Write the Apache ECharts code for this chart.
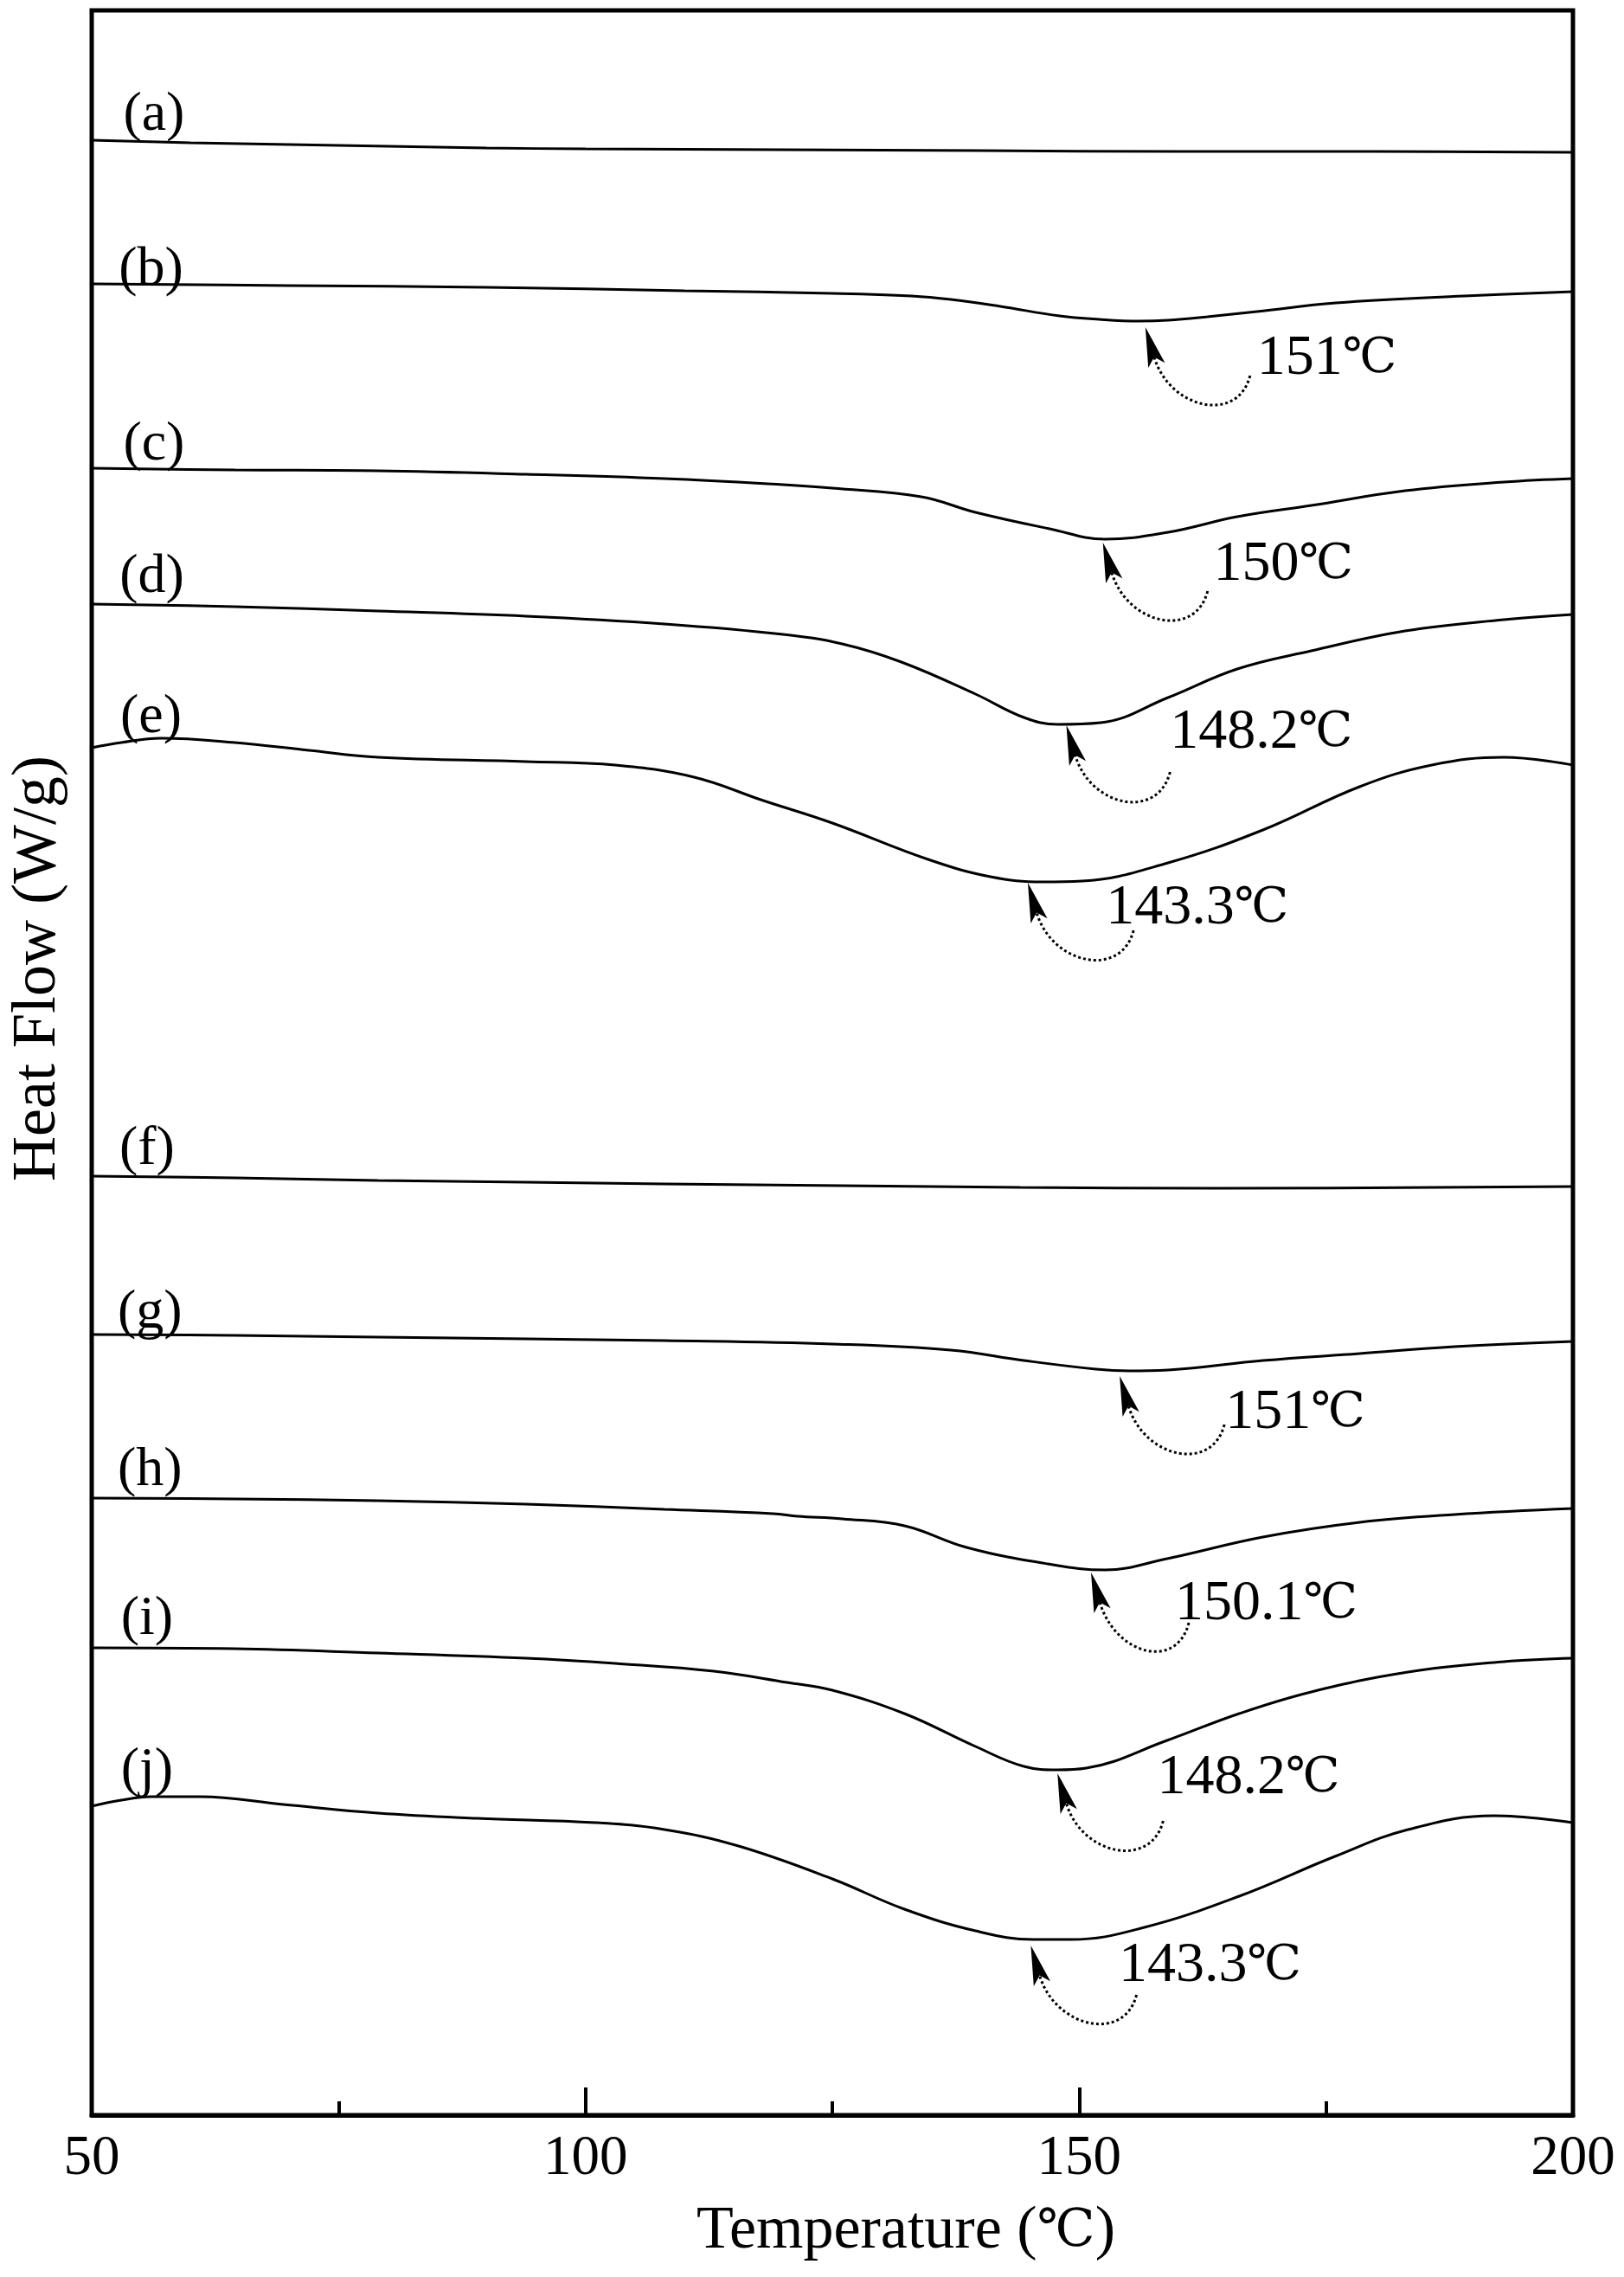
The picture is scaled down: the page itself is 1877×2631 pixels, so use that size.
<!DOCTYPE html>
<html>
<head>
<meta charset="utf-8">
<script src="https://cdn.jsdelivr.net/npm/echarts@6/dist/echarts.min.js"></script>
<style>
  * { margin: 0; padding: 0; }
  html, body { background: #fff; }
  #chart-container { width: 1877px; height: 2631px; }
</style>
</head>
<body>
<div id="chart-container"></div>
<script>
// temperature (°C), heat flow with vertical offsets (arbitrary, curves stacked)
var curveA = [[50, 2.282], [60, 2.279], [70, 2.277], [80, 2.275], [90, 2.273], [100, 2.272], [120, 2.271], [140, 2.270], [160, 2.269], [180, 2.269], [200, 2.268]]
var curveB = [[50, 2.116], [70, 2.114], [90, 2.112], [110, 2.108], [125, 2.105], [133, 2.102], [137, 2.098], [142, 2.090], [148, 2.079], [152, 2.075], [156, 2.073], [159, 2.074], [163, 2.078], [168, 2.084], [176, 2.094], [189, 2.102], [200, 2.107]]
var curveC = [[50, 1.903], [64.5, 1.901], [79, 1.900], [94, 1.896], [108, 1.891], [120, 1.884], [125, 1.880], [134, 1.870], [139.5, 1.852], [147, 1.833], [152.6, 1.821], [159, 1.829], [166, 1.847], [173.5, 1.860], [183, 1.877], [193, 1.887], [200, 1.891]]
var curveD = [[50, 1.746], [64.5, 1.743], [79, 1.738], [94, 1.732], [108, 1.723], [120, 1.711], [126, 1.700], [132, 1.679], [139.5, 1.642], [144.4, 1.615], [147.8, 1.607], [152.2, 1.609], [159, 1.638], [166, 1.671], [173.5, 1.692], [183, 1.715], [193, 1.728], [200, 1.734]]
var curveE = [[50, 1.580], [53, 1.586], [57, 1.591], [64.5, 1.586], [72, 1.577], [79, 1.569], [94, 1.564], [103, 1.560], [111, 1.546], [118, 1.519], [125, 1.493], [134.7, 1.451], [141, 1.431], [146.3, 1.425], [150.3, 1.426], [159, 1.447], [168.6, 1.485], [178.4, 1.535], [185.7, 1.560], [193, 1.569], [200, 1.560]]
var curveF = [[50, 1.085], [64.5, 1.083], [79, 1.080], [94, 1.078], [108, 1.076], [126, 1.074], [144, 1.072], [164, 1.071], [200, 1.073]]
var curveG = [[50, 0.902], [64.5, 0.901], [79, 0.899], [94, 0.897], [108, 0.895], [125, 0.891], [137, 0.884], [144.4, 0.872], [151.7, 0.862], [155, 0.860], [159, 0.861], [168.6, 0.872], [178.4, 0.880], [188, 0.888], [200, 0.894]]
var curveH = [[50, 0.713], [64.5, 0.712], [79, 0.710], [94, 0.706], [108, 0.700], [119, 0.695], [121.5, 0.692], [126, 0.689], [132.3, 0.681], [138.6, 0.656], [146.8, 0.637], [152.6, 0.630], [158.9, 0.643], [168.6, 0.668], [178.4, 0.685], [188, 0.694], [200, 0.701]]
var curveI = [[50, 0.540], [64.5, 0.539], [79, 0.534], [94, 0.528], [103, 0.522], [113, 0.513], [120.4, 0.500], [125, 0.491], [132.3, 0.464], [139.5, 0.426], [144.4, 0.403], [147.8, 0.399], [150.7, 0.401], [158.9, 0.433], [166.2, 0.464], [173.5, 0.489], [183.3, 0.512], [193, 0.524], [200, 0.528]]
var curveJ = [[50, 0.357], [53, 0.364], [56, 0.368], [61, 0.368], [69.4, 0.359], [79, 0.349], [89, 0.343], [101, 0.338], [108, 0.330], [115.5, 0.311], [125, 0.273], [132.3, 0.238], [139.5, 0.213], [145.4, 0.203], [149.2, 0.203], [156.6, 0.217], [166.2, 0.253], [175.9, 0.299], [183.3, 0.330], [192, 0.346], [200, 0.338]]

var curves = [curveA, curveB, curveC, curveD, curveE, curveF, curveG, curveH, curveI, curveJ]
var curveNames = ['(a)', '(b)', '(c)', '(d)', '(e)', '(f)', '(g)', '(h)', '(i)', '(j)']
var xTicks = [50, 100, 150, 200]

// where each curve name sits (temperature, heat flow)
var nameAnchors = [[56.3, 2.3105], [56, 2.1315], [56.3, 1.930], [56.1, 1.777], [56, 1.6145], [55.6, 1.1155], [55.9, 0.927], [55.9, 0.745], [55.6, 0.5725], [55.6, 0.398]]

// melting peak notes: text, arrow tip, arrow tail, text anchor
var peakNotes = [
  null,
  { text: '151℃', tip: [156.7, 2.066], tail: [167.3, 2.010], at: [168.0, 2.029] },
  { text: '150℃', tip: [152.4, 1.817], tail: [163.0, 1.761], at: [163.6, 1.791] },
  { text: '148.2℃', tip: [148.7, 1.606], tail: [159.2, 1.552], at: [159.2, 1.597] },
  { text: '143.3℃', tip: [144.8, 1.424], tail: [155.5, 1.369], at: [152.7, 1.394] },
  null,
  { text: '151℃', tip: [154.1, 0.854], tail: [164.7, 0.798], at: [164.8, 0.811] },
  { text: '150.1℃', tip: [151.2, 0.627], tail: [161.1, 0.569], at: [159.7, 0.590] },
  { text: '148.2℃', tip: [147.8, 0.395], tail: [158.5, 0.340], at: [157.9, 0.389] },
  { text: '143.3℃', tip: [145.1, 0.196], tail: [155.8, 0.139], at: [154.0, 0.172] }
]

var FONT = "'Liberation Serif', 'DejaVu Serif', serif"

// the ℃ sign falls back to a wider font, so draw it a bit smaller
function withDegree(t) {
  if (t.indexOf('℃') < 0) return t
  return t.split('℃').join('{u|℃}')
}

function noteText(p) {
  return withDegree(p.name)
}

function buildSeries(i) {
  var note = peakNotes[i]
  var points = [
    {
      coord: nameAnchors[i],
      name: curveNames[i],
      label: { position: 'inside' }
    }
  ]
  if (note) {
    points.push({
      coord: note.at,
      name: note.text,
      label: { position: 'right', distance: 0, fontSize: 66 }
    })
  }
  return {
    type: 'line',
    name: curveNames[i],
    data: curves[i],
    showSymbol: false,
    smooth: 0.4,
    silent: true,
    lineStyle: { color: '#000', width: 3 },
    markPoint: {
      silent: true,
      symbol: 'circle',
      symbolSize: 0,
      itemStyle: { color: 'rgba(0,0,0,0)' },
      label: {
        show: true,
        formatter: noteText,
        fontFamily: FONT,
        fontSize: 64,
        color: '#000',
        rich: {
          u: { fontFamily: FONT, fontSize: 56, color: '#000' }
        }
      },
      data: points
    }
  }
}

// dotted hook arrows from each note up to its peak
function drawArrows(chart) {
  var elements = []
  peakNotes.forEach(function (note) {
    if (!note) return
    var tip = chart.convertToPixel({ gridIndex: 0 }, note.tip)
    var tail = chart.convertToPixel({ gridIndex: 0 }, note.tail)
    var c1 = [tail[0] - 14, tail[1] + 56]
    var c2 = [tip[0] + 28, tip[1] + 95]
    var dx = tip[0] - c2[0]
    var dy = tip[1] - c2[1]
    var len = Math.sqrt(dx * dx + dy * dy)
    var ux = dx / len
    var uy = dy / len
    var L = 46
    var W = 10
    var base = [tip[0] - ux * L, tip[1] - uy * L]
    var notch = [tip[0] - ux * L * 0.78, tip[1] - uy * L * 0.78]
    elements.push({
      type: 'bezierCurve',
      silent: true,
      shape: {
        x1: tail[0], y1: tail[1],
        cpx1: c1[0], cpy1: c1[1],
        cpx2: c2[0], cpy2: c2[1],
        x2: notch[0], y2: notch[1]
      },
      style: { stroke: '#000', lineWidth: 3, lineDash: [3, 3], fill: null }
    })
    elements.push({
      type: 'polygon',
      silent: true,
      shape: {
        points: [
          tip,
          [base[0] - uy * W, base[1] + ux * W],
          notch,
          [base[0] + uy * W, base[1] - ux * W]
        ]
      },
      style: { fill: '#000' }
    })
  })
  chart.setOption({ graphic: elements })
}

var chartDom = document.getElementById('chart-container')
var myChart = echarts.init(chartDom, null, { renderer: 'canvas' })

var series = []
for (var i = 0; i < curves.length; i++) series.push(buildSeries(i))

var option = {
  animation: false,
  backgroundColor: '#fff',
  grid: {
    left: 103,
    right: 59,
    top: 12,
    bottom: 187,
    show: true,
    borderColor: '#000',
    borderWidth: 5
  },
  xAxis: {
    type: 'value',
    min: xTicks[0],
    max: xTicks[xTicks.length - 1],
    interval: xTicks[1] - xTicks[0],
    name: withDegree('Temperature (℃)'),
    nameLocation: 'middle',
    nameGap: 100,
    nameTextStyle: {
      fontFamily: FONT,
      fontSize: 70,
      color: '#000',
      padding: [0, 0, 0, 170],
      rich: { u: { fontFamily: FONT, fontSize: 60, color: '#000' } }
    },
    axisLine: { show: true, lineStyle: { color: '#000', width: 5 } },
    axisTick: { show: true, inside: true, length: 32, lineStyle: { color: '#000', width: 4 } },
    minorTick: { show: true, splitNumber: 2, length: 16, lineStyle: { color: '#000', width: 4 } },
    axisLabel: { margin: 18, fontFamily: FONT, fontSize: 65, color: '#000' },
    splitLine: { show: false }
  },
  yAxis: {
    type: 'value',
    min: 0,
    max: 2.432,
    name: 'Heat Flow (W/g)',
    nameLocation: 'middle',
    nameRotate: 90,
    nameGap: 26,
    nameTextStyle: { fontFamily: FONT, fontSize: 72, color: '#000', padding: [0, 0, 0, 218] },
    axisLine: { show: false },
    axisTick: { show: false },
    axisLabel: { show: false },
    splitLine: { show: false }
  },
  series: series
}

myChart.setOption(option)
drawArrows(myChart)
window.addEventListener('resize', function () {
  myChart.resize()
  drawArrows(myChart)
})
</script>
</body>
</html>
